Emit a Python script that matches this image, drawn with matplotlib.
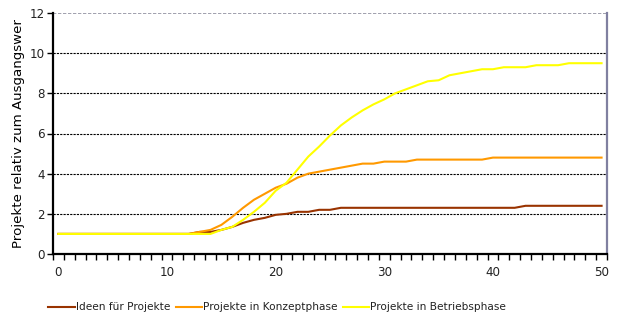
import numpy as np
import matplotlib

matplotlib.use("Agg")
import matplotlib.pyplot as plt
from matplotlib.ticker import FixedLocator

# step index 0..50, values relative to the starting level
steps = list(range(51))
ideen = ([1.0] * 13
         + [1.1, 1.1, 1.2, 1.35, 1.55, 1.7, 1.8, 1.95, 2.0, 2.1, 2.1, 2.2, 2.2]
         + [2.3] * 17
         + [2.4] * 8)
konzept = ([1.0] * 13
           + [1.1, 1.2, 1.45, 1.85, 2.3, 2.7, 3.0, 3.3, 3.5, 3.8, 4.0, 4.1,
              4.2, 4.3, 4.4, 4.5, 4.5]
           + [4.6] * 3
           + [4.7] * 7
           + [4.8] * 11)
betrieb = ([1.0] * 15
           + [1.2, 1.35, 1.7, 2.1, 2.55, 3.15, 3.55, 4.2, 4.85, 5.35, 5.9,
              6.4, 6.8, 7.15, 7.45, 7.7, 8.0, 8.2, 8.4, 8.6, 8.65, 8.9, 9.0,
              9.1, 9.2, 9.2, 9.3, 9.3, 9.3, 9.4, 9.4, 9.4]
           + [9.5] * 4)

labels = ["Ideen für Projekte", "Projekte in Konzeptphase",
          "Projekte in Betriebsphase"]
colors = ["#993300", "#FF9900", "#FFFF00"]
ylabel = "Projekte relativ zum Ausgangswer"

plt.rcParams["font.family"] = ["DejaVu Sans"]
plt.rcParams["font.size"] = 8.6
plt.rcParams["text.color"] = "#222222"
plt.rcParams["xtick.labelcolor"] = "#222222"
plt.rcParams["ytick.labelcolor"] = "#222222"

fig = plt.figure(figsize=(6.23, 3.2), dpi=100)
ax = fig.add_axes([53 / 623, 1 - 254 / 320, 554 / 623, 241 / 320])

for y in (2, 4, 6, 8, 10):
    ax.axhline(y, color="black", lw=0.8, ls=(0, (2, 1)), zorder=1)
ax.axhline(12, color="#9090a0", lw=1.2, ls=(0, (2, 1)), zorder=1)

for vals, lab, c in zip((ideen, konzept, betrieb), labels, colors):
    ax.plot(steps, vals, color=c, lw=1.5, label=lab, zorder=3)

ax.set_xlim(-0.5, 50.5)
ax.set_ylim(0, 12)
ax.set_xticks(range(0, 51, 10))
ax.xaxis.set_minor_locator(FixedLocator(np.arange(-0.5, 51, 1.0)))
ax.tick_params(axis="x", which="major", length=0, pad=9)
ax.tick_params(axis="x", which="minor", length=4, width=1, color="black")
ax.set_yticks(range(0, 13, 2))
ax.tick_params(axis="y", length=4, width=1, pad=2)

for side in ("left", "bottom"):
    ax.spines[side].set_linewidth(1.6)
    ax.spines[side].set_color("black")
ax.spines["top"].set_visible(False)
ax.spines["right"].set_color("#8080a0")
ax.spines["right"].set_linewidth(1.6)

ax.set_ylabel(ylabel, fontsize=9.6, labelpad=3)

fig.legend(loc="center", bbox_to_anchor=(0.445, 0.04), ncol=3,
           frameon=False, handlelength=2.5, handletextpad=0.1,
           columnspacing=0.5, fontsize=7.6)

fig.savefig("out.png", dpi=100)
